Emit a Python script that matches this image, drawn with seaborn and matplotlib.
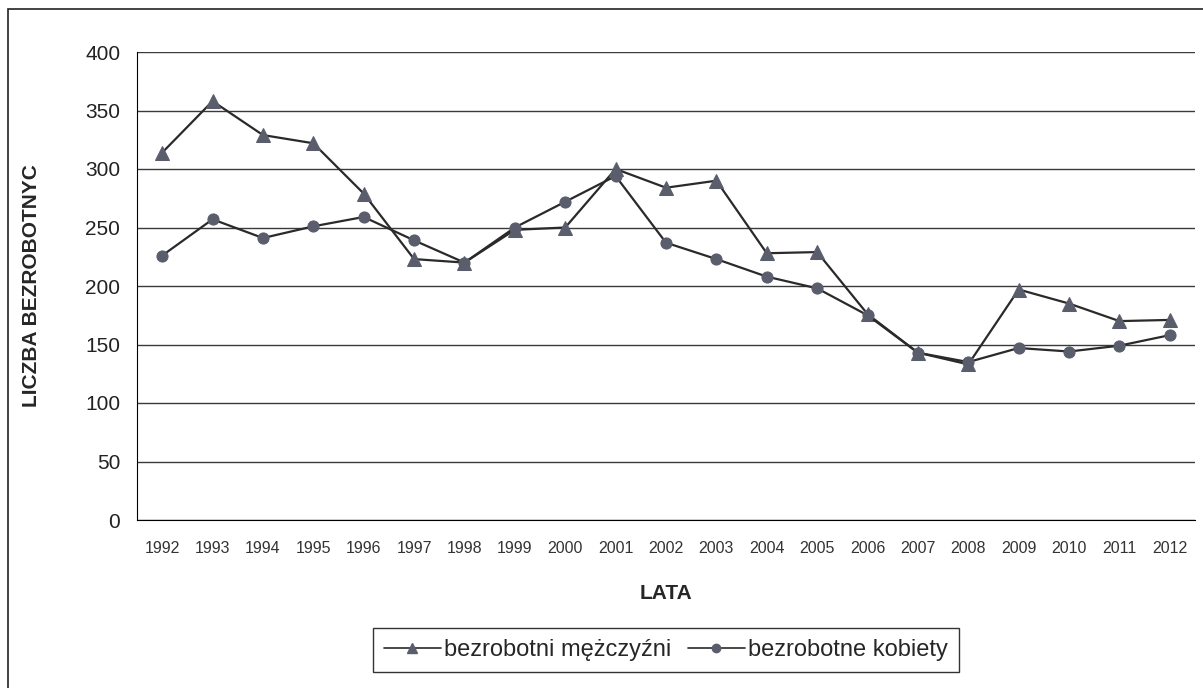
import pandas as pd
import matplotlib
matplotlib.use("Agg")
import matplotlib.pyplot as plt
import seaborn as sns
from matplotlib.patches import Rectangle

# dane
years = list(range(1992, 2013))
men = [314, 358, 329, 322, 279, 223, 220, 248, 250, 300, 284,
       290, 228, 229, 176, 143, 133, 197, 185, 170, 171]
women = [226, 257, 241, 251, 259, 239, 220, 250, 272, 294, 237,
         223, 208, 198, 175, 143, 135, 147, 144, 149, 158]
men_label = "bezrobotni mężczyźni"
women_label = "bezrobotne kobiety"

df = pd.DataFrame({"Rok": years, men_label: men, women_label: women})

sns.set_style("white")
plt.rcParams["font.family"] = ["Liberation Sans", "DejaVu Sans"]

fig = plt.figure(figsize=(12.03, 6.88), dpi=100)
ax = fig.add_axes([137 / 1203, 1 - 520 / 688, (1195 - 137) / 1203, (520 - 52) / 688])

line_color = "#2a2a2a"
marker_color = "#5a5d6c"
sns.lineplot(data=df, x="Rok", y=men_label, color=line_color, marker="^",
             markersize=9.5, markerfacecolor=marker_color, markeredgecolor=marker_color,
             linewidth=1.6, ax=ax)
sns.lineplot(data=df, x="Rok", y=women_label, color=line_color, marker="o",
             markersize=8, markerfacecolor=marker_color, markeredgecolor=marker_color,
             linewidth=1.6, ax=ax)

ax.set_xlim(1991.5, 2012.5)
ax.set_ylim(0, 400)
ax.set_yticks(range(0, 401, 50))
ax.set_xticks(years)
ax.set_xticklabels([str(y) for y in years], fontsize=11.5, color="#333333")
ax.set_xticks([y + 0.5 for y in range(1991, 2013)], minor=True)
ax.tick_params(axis="x", which="major", length=0, pad=15)
ax.tick_params(axis="x", which="minor", length=5, direction="out", width=1, color="black")
ax.tick_params(axis="y", length=5, direction="out", width=1, color="black", labelsize=15, pad=7)
for lbl in ax.get_yticklabels():
    lbl.set_color("#222222")

ax.grid(axis="y", color="#3a3a3a", linewidth=1)
ax.set_axisbelow(True)
for side in ["top", "right"]:
    ax.spines[side].set_visible(False)
ax.spines["left"].set_color("black")
ax.spines["bottom"].set_color("black")

ax.set_xlabel("LATA", fontsize=15, fontweight="bold")
ax.xaxis.set_label_coords(529 / 1058, -(584 - 520) / 468)
ax.set_ylabel("LICZBA BEZROBOTNYC", fontsize=15, fontweight="bold")
ax.yaxis.set_label_coords(-96 / 1058, 0.5)

# legenda
handles = [
    plt.Line2D([], [], color=line_color, marker="^", markersize=7,
               markerfacecolor=marker_color, markeredgecolor=marker_color, linewidth=1.2),
    plt.Line2D([], [], color=line_color, marker="o", markersize=6,
               markerfacecolor=marker_color, markeredgecolor=marker_color, linewidth=1.2),
]
leg = fig.legend(handles, [men_label, women_label], loc="center",
                 bbox_to_anchor=(666 / 1203, 1 - 650 / 688), ncol=2, fontsize=17,
                 frameon=True, fancybox=False, handlelength=2.4, handletextpad=0.15,
                 columnspacing=0.7, borderpad=0.45)
leg.get_frame().set_edgecolor("black")
leg.get_frame().set_linewidth(1)

# ramka obszaru wykresu
fig.patches.append(Rectangle((8 / 1203, -0.01), 1.02, 1 - 9 / 688 + 0.01,
                             transform=fig.transFigure, fill=False,
                             edgecolor="#222222", linewidth=1.2))

fig.savefig("out.png", dpi=100)
